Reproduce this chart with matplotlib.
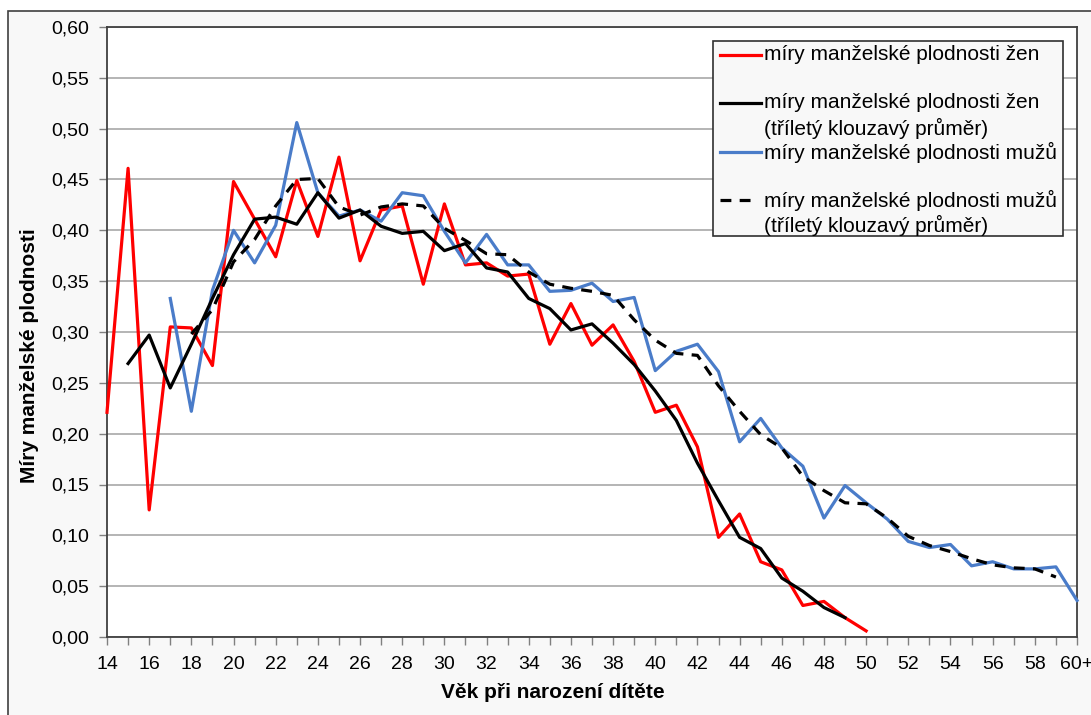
import matplotlib
matplotlib.use("Agg")
import matplotlib.pyplot as plt
from matplotlib.patches import Rectangle
from matplotlib.lines import Line2D
from matplotlib.ticker import FuncFormatter, MultipleLocator

plt.rcParams['font.family'] = ['Liberation Sans', 'DejaVu Sans']

# ---- data ----
ages_women = list(range(14, 51))
women_rates = [0.221, 0.461, 0.125, 0.305, 0.304, 0.267, 0.448, 0.411, 0.374, 0.449,
               0.394, 0.472, 0.370, 0.420, 0.424, 0.347, 0.426, 0.366, 0.368, 0.355,
               0.357, 0.288, 0.328, 0.287, 0.307, 0.271, 0.221, 0.228, 0.187, 0.098,
               0.121, 0.074, 0.066, 0.031, 0.035, 0.019, 0.006]

ages_women_ma = list(range(15, 50))
women_ma = [0.269, 0.297, 0.245, 0.288, 0.333, 0.376, 0.411, 0.413, 0.406, 0.437,
            0.412, 0.420, 0.404, 0.397, 0.399, 0.380, 0.387, 0.363, 0.359, 0.333,
            0.323, 0.302, 0.308, 0.289, 0.268, 0.242, 0.213, 0.171, 0.134, 0.098,
            0.087, 0.058, 0.045, 0.029, 0.019]

ages_men = list(range(17, 61))
men_rates = [0.333, 0.222, 0.341, 0.400, 0.368, 0.405, 0.506, 0.437, 0.414, 0.420,
             0.409, 0.437, 0.434, 0.399, 0.368, 0.396, 0.366, 0.366, 0.340, 0.341,
             0.348, 0.330, 0.334, 0.262, 0.281, 0.288, 0.261, 0.192, 0.215, 0.186,
             0.168, 0.117, 0.149, 0.132, 0.116, 0.094, 0.088, 0.091, 0.070, 0.074,
             0.067, 0.067, 0.069, 0.036]

ages_men_ma = list(range(18, 60))
men_ma = [0.298, 0.322, 0.369, 0.391, 0.424, 0.450, 0.451, 0.423, 0.415, 0.423,
          0.426, 0.424, 0.402, 0.390, 0.377, 0.376, 0.359, 0.347, 0.343, 0.340,
          0.336, 0.312, 0.292, 0.279, 0.277, 0.247, 0.222, 0.199, 0.186, 0.158,
          0.144, 0.132, 0.131, 0.117, 0.099, 0.090, 0.084, 0.077, 0.071, 0.068,
          0.067, 0.059]

x_ticks = list(range(14, 61))
x_labels = [("60+" if a == 60 else str(a)) if (a - 14) % 2 == 0 else "" for a in x_ticks]

legend_labels = [
    ["míry manželské plodnosti žen"],
    ["míry manželské plodnosti žen", "(tříletý klouzavý průměr)"],
    ["míry manželské plodnosti mužů"],
    ["míry manželské plodnosti mužů", "(tříletý klouzavý průměr)"],
]

# ---- figure ----
W, H = 1091, 715
fig = plt.figure(figsize=(W / 100, H / 100), dpi=100)
fig.patch.set_facecolor('white')

def fx(x):
    return x / W

def fy(y):
    return 1 - y / H

# chart area background
fig.patches.append(Rectangle((fx(8), fy(730)), fx(1100) - fx(8), fy(11) - fy(730),
                             transform=fig.transFigure, facecolor='#f8f8f8',
                             edgecolor='#404040', lw=1.2, zorder=-5))

ax = fig.add_axes([fx(107), fy(637), fx(1077) - fx(107), fy(27) - fy(637)])
ax.set_zorder(1)
ax.set_facecolor('white')

RED = '#ff0000'
BLUE = '#4a7cc9'
LW = 2.3
DASH = (3.4, 2.6)

ax.plot(ages_women, women_rates, color=RED, lw=LW, zorder=3, clip_on=False)
ax.plot(ages_women_ma, women_ma, color='black', lw=LW, zorder=4, clip_on=False)
ax.plot(ages_men, men_rates, color=BLUE, lw=LW, zorder=3, clip_on=False)
ax.plot(ages_men_ma, men_ma, color='black', lw=LW, dashes=DASH, zorder=4, clip_on=False)

ax.set_xlim(14, 60)
ax.set_ylim(0, 0.6)
ax.yaxis.set_major_locator(MultipleLocator(0.05))
ax.yaxis.set_major_formatter(FuncFormatter(lambda v, p: f"{v:.2f}".replace('.', ',')))
ax.set_xticks(x_ticks)
ax.set_xticklabels(x_labels)
ax.yaxis.grid(True, color='#a0a0a0', lw=1.1)
ax.set_axisbelow(True)

for s in ax.spines.values():
    s.set_color('#404040')
    s.set_linewidth(1.3)

ax.tick_params(axis='both', direction='out', length=6, width=1, color='#808080',
               labelsize=14, labelcolor='black')
ax.tick_params(axis='x', pad=8)
ax.tick_params(axis='y', pad=7)

fig.text(fx(553), fy(693), "Věk při narození dítěte", ha='center', va='center',
         fontsize=15, fontweight='bold')
fig.text(fx(30), fy(356), "Míry manželské plodnosti", ha='center', va='center',
         rotation=90, fontsize=15, fontweight='bold')

# ---- legend ----
leg_ax = fig.add_axes([0, 0, 1, 1], facecolor='none')
leg_ax.set_zorder(5)
leg_ax.set_xlim(0, W)
leg_ax.set_ylim(H, 0)
leg_ax.axis('off')
leg_ax.add_patch(Rectangle((713, 41), 1063 - 713, 236 - 41, facecolor='#f8f8f8',
                           edgecolor='#303030', lw=1.2))
styles = [dict(color=RED), dict(color='black'), dict(color=BLUE),
          dict(color='black', dashes=DASH)]
ends = [761, 761, 761, 752]
ys = [55, 103, 152, 200]
for lab, st, y, xe in zip(legend_labels, styles, ys, ends):
    leg_ax.add_line(Line2D([720, xe], [y, y], lw=LW, **st))
    for i, line in enumerate(lab):
        leg_ax.text(764, y + 25 * i, line, ha='left', va='center', fontsize=15)

fig.savefig("out.png", dpi=100)
